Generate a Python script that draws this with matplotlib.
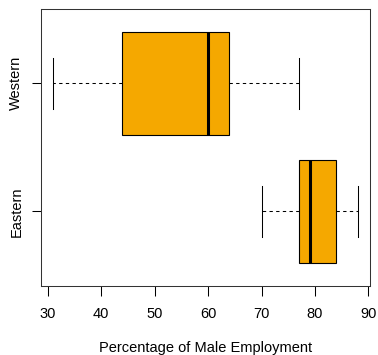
import matplotlib
matplotlib.use("Agg")
import matplotlib.pyplot as plt

# Five-number summaries (whisker low, Q1, median, Q3, whisker high)
regions = ["Eastern", "Western"]
whisker_low = [70, 31]
q1 = [77, 44]
median = [79, 60]
q3 = [84, 64]
whisker_high = [88, 77]
x_ticks = [30, 40, 50, 60, 70, 80, 90]

plt.rcParams["font.family"] = ["Liberation Sans", "DejaVu Sans"]

fig = plt.figure(figsize=(3.78, 3.55), dpi=100)
ax = fig.add_axes([0.1077, 0.1952, 0.9788 - 0.1077, 0.9746 - 0.1952])

stats = []
for i, name in enumerate(regions):
    stats.append({
        "label": name,
        "whislo": whisker_low[i],
        "q1": q1[i],
        "med": median[i],
        "q3": q3[i],
        "whishi": whisker_high[i],
        "fliers": [],
    })

ax.bxp(
    stats,
    positions=[1, 2],
    widths=0.8,
    vert=False,
    patch_artist=True,
    showfliers=False,
    boxprops=dict(facecolor="#F5A800", edgecolor="black", linewidth=0.8),
    medianprops=dict(color="black", linewidth=2.2, solid_capstyle="butt"),
    whiskerprops=dict(color="black", linewidth=0.75, linestyle=(0, (3.2, 3.2))),
    capprops=dict(color="black", linewidth=0.75),
    capwidths=0.4,
)

lo, hi = min(whisker_low), max(whisker_high)
pad = (hi - lo) * 0.04
ax.set_xlim(lo - pad, hi + pad)
ax.set_ylim(0.42, 2.58)

ax.set_xticks(x_ticks)
ax.set_xticklabels([str(t) for t in x_ticks], fontsize=10.5)
ax.set_yticks([1, 2])
ax.set_yticklabels(regions, fontsize=10.5, rotation=90, va="center")
ax.tick_params(axis="x", length=7, width=0.75, pad=8.5)
ax.tick_params(axis="y", length=6.5, width=0.75, pad=6)

ax.set_xlabel("Percentage of Male Employment", fontsize=10.5, labelpad=14)

for s in ax.spines.values():
    s.set_linewidth(0.75)
    s.set_color("#333333")

fig.savefig("out.png", dpi=100)
